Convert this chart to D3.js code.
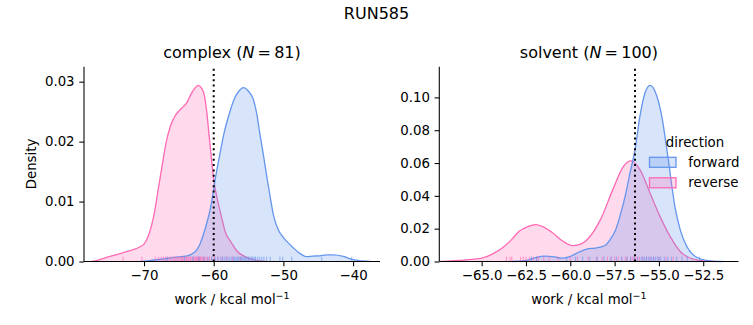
<!DOCTYPE html>
<html><head><meta charset="utf-8">
<script src="https://cdn.jsdelivr.net/npm/d3@7"></script>
<style>
body{margin:0;background:#fff;}
svg{display:block;font-family:"DejaVu Sans",sans-serif;}
</style></head>
<body><svg id="chart" width="753" height="325"></svg>
<script>
// ---------- data ----------
const suptitle = "RUN585";
const panels = ["complex", "solvent"];
const panelN = [81, 100];
const hueLevels = ["forward", "reverse"];
const hueColors = ["#6495ED", "#FF69B4"];
const vlineValues = [-60.0, -56.35];

const complexXTicks = [-70, -60, -50, -40];
const complexYTicks = [0.00, 0.01, 0.02, 0.03];
const solventXTicks = [-65.0, -62.5, -60.0, -57.5, -55.0, -52.5];
const solventYTicks = [0.00, 0.02, 0.04, 0.06, 0.08, 0.10];

// density curves: [work, density]
const complexForwardKde = [[-70.5,0],[-69.5,0.0001],[-67.5,0.0004],[-65.7,0.0007],[-63.8,0.00095],[-62.9,0.0014],[-62.4,0.002],[-61.9,0.0031],[-61.4,0.0048],[-60.9,0.0068],[-60.4,0.0093],[-59.7,0.0143],[-59.1,0.018],[-58.5,0.0215],[-57.8,0.0245],[-57.1,0.027],[-56.4,0.0284],[-55.75,0.029],[-55.0,0.0284],[-54.3,0.027],[-53.8,0.0245],[-53.4,0.0215],[-52.9,0.018],[-52.4,0.0143],[-51.9,0.0108],[-51.4,0.0076],[-50.7,0.0052],[-50.0,0.004],[-49.3,0.0031],[-48.6,0.0023],[-47.7,0.0014],[-46.7,0.00083],[-45.8,0.0009],[-44.8,0.00095],[-43.8,0.0011],[-42.8,0.0011],[-41.4,0.00085],[-40.0,0.0003],[-38.8,0.0001],[-37.5,0]];
const complexReverseKde = [[-77.5,0],[-76.7,0.0002],[-75.0,0.0008],[-73.8,0.0012],[-72.0,0.0018],[-70.5,0.0025],[-70.0,0.0029],[-69.3,0.0045],[-68.6,0.0076],[-67.9,0.0125],[-67.4,0.016],[-66.8,0.02],[-66.2,0.0226],[-65.6,0.0242],[-65.0,0.0251],[-64.4,0.0258],[-63.8,0.0266],[-63.3,0.0278],[-62.8,0.0288],[-62.2,0.0294],[-61.8,0.029],[-61.4,0.028],[-61.0,0.025],[-60.7,0.0215],[-60.35,0.0175],[-60.0,0.0137],[-59.5,0.0105],[-59.0,0.008],[-58.3,0.0048],[-57.5,0.0032],[-56.7,0.0018],[-55.3,0.0007],[-53.8,0.0002],[-52.5,0]];
const solventForwardKde = [[-63.3,0],[-62.7,0.0003],[-62.3,0.0012],[-61.95,0.0024],[-61.4,0.0033],[-60.9,0.0028],[-60.5,0.002],[-60.07,0.0028],[-59.5,0.0058],[-59.07,0.0076],[-58.6,0.0082],[-58.3,0.0087],[-57.95,0.0105],[-57.76,0.0132],[-57.45,0.019],[-57.2,0.0275],[-56.9,0.04],[-56.63,0.054],[-56.35,0.068],[-56.07,0.0886],[-55.78,0.1028],[-55.5,0.1073],[-55.22,0.1038],[-54.84,0.0886],[-54.47,0.062],[-54.1,0.0336],[-53.8,0.0194],[-53.43,0.0092],[-52.87,0.0026],[-52.1,0.0004],[-51.4,0]];
const solventReverseKde = [[-67.3,0],[-66.7,0.0004],[-66.0,0.0009],[-65.0,0.002],[-64.4,0.0045],[-63.8,0.0085],[-63.3,0.0135],[-62.9,0.0183],[-62.4,0.0213],[-61.95,0.0225],[-61.5,0.021],[-61.0,0.0175],[-60.5,0.013],[-59.9,0.0097],[-59.45,0.0105],[-58.95,0.0145],[-58.3,0.0255],[-57.6,0.0438],[-57.0,0.058],[-56.57,0.0613],[-56.07,0.056],[-55.5,0.0417],[-54.94,0.0275],[-54.37,0.0153],[-53.8,0.0061],[-53.06,0.0014],[-52.3,0.0002],[-51.8,0]];

// rug samples (estimated)
const complexForwardWork = [-66.7,-64.2,-63.0,-62.1,-61.4,-60.8,-60.3,-59.8,-59.4,-59.0,-58.7,-58.4,-58.1,-57.8,-57.5,-57.2,-57.0,-56.8,-56.6,-56.4,-56.2,-56.0,-55.8,-55.6,-55.4,-55.2,-55.0,-54.8,-54.6,-54.4,-54.2,-54.0,-53.7,-53.4,-53.1,-52.8,-52.4,-51.9,-50.5,-50.1,-48.8,-44.5,-40.2];
const complexReverseWork = [-73.0,-70.3,-68.4,-67.9,-67.5,-67.2,-66.9,-66.6,-66.3,-66.1,-65.8,-65.6,-65.4,-65.2,-65.0,-64.8,-64.6,-64.5,-64.3,-64.1,-63.9,-63.8,-63.6,-63.4,-63.3,-63.1,-62.9,-62.8,-62.6,-62.5,-62.4,-62.3,-62.2,-62.1,-62.0,-61.9,-61.8,-61.6,-61.5,-61.3,-61.1,-60.9,-60.6,-60.3,-59.9,-59.4,-58.8,-58.1,-57.3,-56.2];
const solventForwardWork = [-62.2,-61.9,-60.2,-59.7,-59.3,-58.9,-58.5,-58.1,-57.7,-57.4,-57.1,-56.8,-56.6,-56.4,-56.2,-56.0,-55.9,-55.8,-55.7,-55.6,-55.5,-55.4,-55.3,-55.2,-55.1,-55.0,-54.9,-54.7,-54.5,-54.3,-54.0,-53.7,-53.4,-52.7];
const solventReverseWork = [-63.6,-63.4,-63.3,-62.8,-62.65,-62.5,-62.3,-62.1,-61.9,-61.8,-61.5,-61.2,-60.7,-60.0,-59.6,-59.0,-58.5,-58.2,-57.9,-57.7,-57.5,-57.3,-57.1,-56.9,-56.8,-56.6,-56.5,-56.4,-56.3,-56.2,-56.1,-55.9,-55.7,-55.5,-55.3,-55.0,-54.6,-54.2];

// ---------- layout ----------
const svg = d3.select("#chart");
const fmtX0 = d => d3.format(".0f")(d).replace("-", "\u2212");
const fmtX1 = d => d3.format(".1f")(d).replace("-", "\u2212");
const fmtY2 = d => d3.format(".2f")(d);

const panelCfg = [
  {left:84, right:380, top:66.7, bottom:261.5, xdom:[-78.61,-36.14], ydom:[0,0.0325],
   xt:complexXTicks, yt:complexYTicks, fx:fmtX0,
   kde:[complexForwardKde, complexReverseKde], rug:[complexForwardWork, complexReverseWork]},
  {left:439.3, right:738.5, top:66.7, bottom:261.5, xdom:[-67.39,-50.51], ydom:[0,0.1187],
   xt:solventXTicks, yt:solventYTicks, fx:fmtX1,
   kde:[solventForwardKde, solventReverseKde], rug:[solventForwardWork, solventReverseWork]}
];

svg.append("text").attr("x", 376.5).attr("y", 19).attr("text-anchor","middle")
  .attr("font-size", 16).text(suptitle);

panelCfg.forEach((p, i) => {
  const x = d3.scaleLinear().domain(p.xdom).range([p.left, p.right]);
  const y = d3.scaleLinear().domain(p.ydom).range([p.bottom, p.top]);
  const g = svg.append("g");

  // fills + lines (reverse first, forward on top)
  [1, 0].forEach(h => {
    const area = d3.area().x(d => x(d[0])).y0(y(0)).y1(d => y(d[1])).curve(d3.curveMonotoneX);
    const line = d3.line().x(d => x(d[0])).y(d => y(d[1])).curve(d3.curveMonotoneX);
    g.append("path").datum(p.kde[h]).attr("d", area)
      .attr("fill", hueColors[h]).attr("fill-opacity", 0.25).attr("stroke", "none");
    g.append("path").datum(p.kde[h]).attr("d", line)
      .attr("fill", "none").attr("stroke", hueColors[h]).attr("stroke-width", 1.3);
  });

  // rugs
  const rugH = 0.025 * (p.bottom - p.top);
  [1, 0].forEach(h => {
    g.selectAll(null).data(p.rug[h]).enter().append("line")
      .attr("x1", d => x(d)).attr("x2", d => x(d))
      .attr("y1", p.bottom).attr("y2", p.bottom - rugH)
      .attr("stroke", hueColors[h]).attr("stroke-width", 1).attr("stroke-opacity", 0.65);
  });

  // vertical dotted line
  g.append("line").attr("x1", x(vlineValues[i])).attr("x2", x(vlineValues[i]))
    .attr("y1", y(p.ydom[0])).attr("y2", y(p.ydom[1]))
    .attr("stroke", "#000").attr("stroke-width", 2).attr("stroke-dasharray", "2,3.3");

  // axes
  const xa = d3.axisBottom(x).tickValues(p.xt).tickFormat(p.fx).tickSizeOuter(0).tickSizeInner(4.7).tickPadding(4.7);
  const ya = d3.axisLeft(y).tickValues(p.yt).tickFormat(fmtY2).tickSizeOuter(0).tickSizeInner(4.7).tickPadding(4.7);
  const gx = g.append("g").attr("transform", `translate(0,${p.bottom})`).call(xa);
  const gy = g.append("g").attr("transform", `translate(${p.left},0)`).call(ya);
  [gx, gy].forEach(a => {
    a.selectAll("text").attr("font-size", 13.33).attr("font-family", "DejaVu Sans").attr("fill", "#000");
    a.selectAll("line").attr("stroke", "#000").attr("stroke-width", 1.07);
    a.select(".domain").attr("stroke", "#000").attr("stroke-width", 1.07);
  });
  gx.select(".domain").attr("d", `M${p.left},0H${p.right}`);
  gy.select(".domain").attr("d", `M0,${p.bottom}V${p.top}`);

  const cx = (p.left + p.right) / 2;
  // title
  const t = svg.append("text").attr("x", cx).attr("y", 58.3).attr("text-anchor", "middle").attr("font-size", 16);
  t.append("tspan").text(panels[i] + " (");
  t.append("tspan").attr("font-style", "italic").text("N");
  t.append("tspan").text("\u2009=\u2009" + panelN[i] + ")");

  // x label
  const xl = svg.append("text").attr("x", cx).attr("y", 303.5).attr("text-anchor", "middle").attr("font-size", 13.33);
  xl.append("tspan").text("work / kcal mol");
  xl.append("tspan").attr("dy", -5).attr("font-size", 9.5).text("\u22121");
});

// y label
svg.append("text").attr("transform", "translate(35.5,164) rotate(-90)")
  .attr("text-anchor", "middle").attr("font-size", 13.33).text("Density");

// legend
const lg = svg.append("g");
lg.append("text").attr("x", 695).attr("y", 146.5).attr("text-anchor", "middle").attr("font-size", 13.33).text("direction");
hueLevels.forEach((lv, h) => {
  const yy = 157.3 + h * 20.5;
  lg.append("rect").attr("x", 649.5).attr("y", yy).attr("width", 26.5).attr("height", 10)
    .attr("fill", hueColors[h]).attr("fill-opacity", 0.25).attr("stroke", hueColors[h]).attr("stroke-width", 1.3);
  lg.append("text").attr("x", 688.3).attr("y", yy + 9.5).attr("font-size", 13.33).text(lv);
});
</script></body></html>
